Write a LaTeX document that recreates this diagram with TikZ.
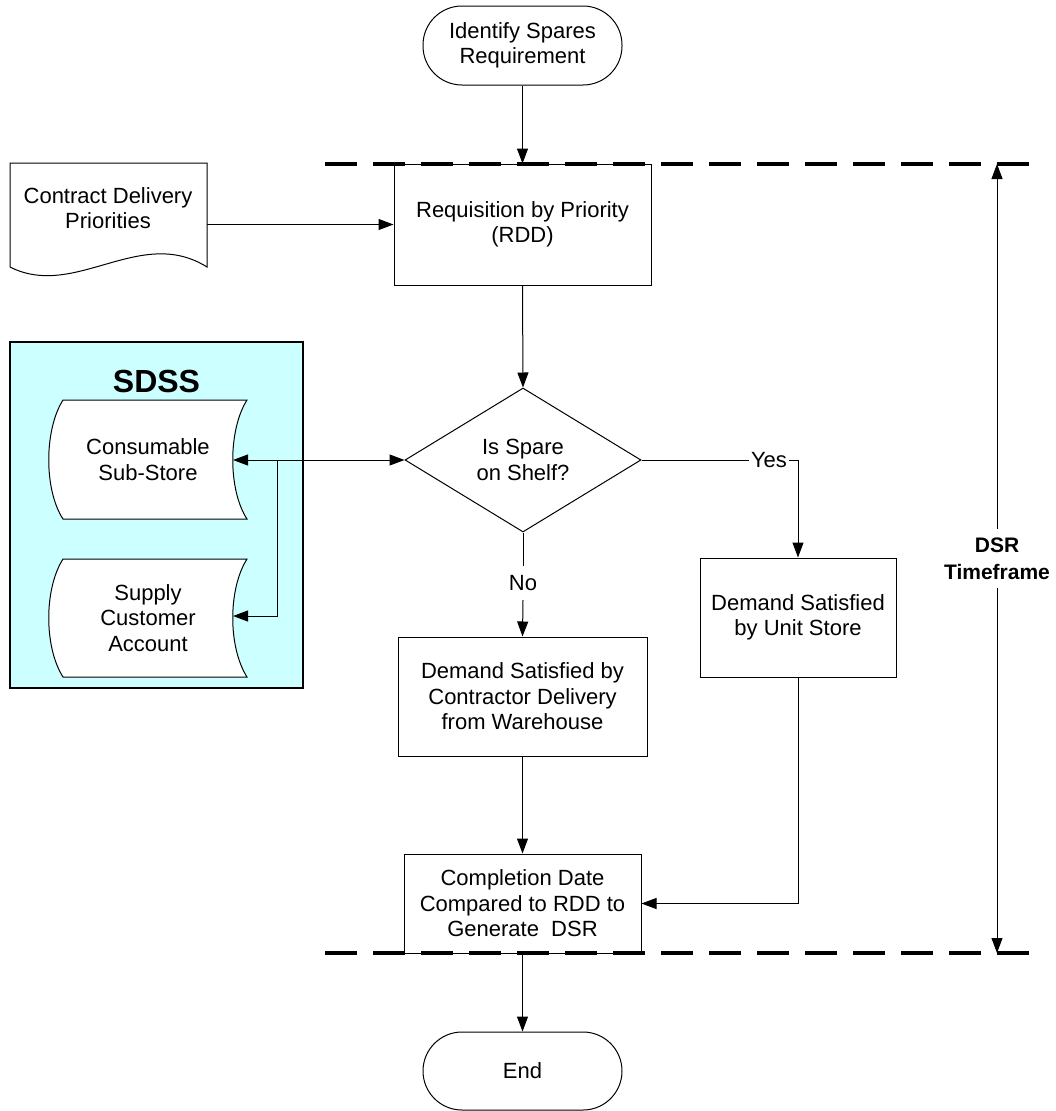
\documentclass[tikz,border=0pt]{standalone}
\usepackage{fontspec}
\setmainfont{Liberation Sans}
\usetikzlibrary{shapes.geometric,arrows.meta,calc}
\definecolor{sdssfill}{HTML}{CCFFFF}
\begin{document}
\begin{tikzpicture}[x=1pt,y=-1pt,
  every node/.style={font=\fontsize{22}{25.5}\selectfont, align=center},
  line/.style={draw=black, line width=1pt},
  arr/.style={line, -{Triangle[length=15pt,width=11pt]}},
  arrtwo/.style={line, {Triangle[length=15pt,width=11pt]}-{Triangle[length=15pt,width=11pt]}},
  procbox/.style={draw=black, line width=1pt, rectangle, fill=white, inner sep=0pt},
  term/.style={draw=black, line width=1pt, rectangle, rounded corners=39pt, fill=white, inner sep=0pt},
  dashline/.style={line width=3.5pt, dash pattern=on 32pt off 16pt, line cap=butt},
  lbl/.style={fill=white, inner sep=3pt},
  boldlbl/.style={font=\fontsize{21}{27}\selectfont\bfseries}
]
\useasboundingbox (0,0) rectangle (1055,1111);

% SDSS container
\node[draw=black, line width=1.5pt, fill=sdssfill, rectangle, minimum width=293pt, minimum height=346pt, inner sep=0pt] (sdssbox) at (156.5,515) {};
\node[font=\fontsize{32}{36}\selectfont\bfseries] (sdsslbl) at (156.5,381) {SDSS};

% Stored data shapes
\draw[line, fill=white] (63,400) -- (247,400) .. controls (228,430) and (228,490) .. (247,519) -- (63,519) .. controls (44,490) and (44,430) .. (63,400) -- cycle;
\node (cons) at (148,459.5) {Consumable\\Sub-Store};
\draw[line, fill=white] (63,559) -- (247,559) .. controls (228,589) and (228,647) .. (247,677) -- (63,677) .. controls (44,647) and (44,589) .. (63,559) -- cycle;
\node (supp) at (148,618) {Supply\\Customer\\Account};
\coordinate (consR) at (233,460);
\coordinate (suppR) at (233,616);
\coordinate (branch) at (277,460);

% Document shape
\draw[line, fill=white] (10,163) -- (207,163) -- (207,267) .. controls (140,225) and (75,300) .. (10,267) -- cycle;
\node (doc) at (108,208) {Contract Delivery\\Priorities};
\coordinate (docR) at (207,224.5);

% Dashed timeframe lines
\coordinate (dTl) at (325,164);
\coordinate (dTr) at (1032,164);
\coordinate (dBl) at (325,953);
\coordinate (dBr) at (1032,953);

% Main flow nodes
\node[term, minimum width=199pt, minimum height=79pt] (start) at (522.5,45.5) {Identify Spares\\Requirement};
\node[procbox, minimum width=257pt, minimum height=121pt] (req) at (522.5,224.5) {Requisition by Priority\\(RDD)};
\node[draw=black, line width=1pt, diamond, fill=white, minimum width=236pt, minimum height=144pt, inner sep=0pt] (dec) at (523,460) {Is Spare\\on Shelf?};
\node[procbox, minimum width=249pt, minimum height=119pt] (contr) at (522.5,696.5) {Demand Satisfied by\\Contractor Delivery\\from Warehouse};
\node[procbox, minimum width=196pt, minimum height=119pt] (unit) at (798,617.5) {Demand Satisfied\\by Unit Store};
\node[procbox, minimum width=237pt, minimum height=99pt] (comp) at (522.5,903.5) {Completion Date\\Compared to RDD to\\Generate\ \ DSR};
\node[term, minimum width=199pt, minimum height=78pt] (endn) at (522.5,1071) {End};

\node[inner sep=2pt] (yes) at (769,460) {Yes};
\node[inner sep=0pt, minimum height=34pt] (no) at (523,583) {No};

% DSR arrow
\coordinate (dsrT) at (997,164);
\coordinate (dsrB) at (997,953);
\node[boldlbl, inner sep=0pt, minimum height=59pt] (dsr) at (997,558.5) {DSR\\Timeframe};

% Connectors
\draw[arr] (start.south) -- (req.north);
\draw[arr] (docR) -- (req.west);
\draw[arr] (req.south) -- (dec.north);
\draw[arrtwo] (dec.west) -- (consR);
\draw[arr] (branch) |- (suppR);
\draw[line] (dec.east) -- (yes.west);
\draw[arr] (yes.east) -| (unit.north);
\draw[line] (dec.south) -- (no.north);
\draw[arr] (no.south) -- (contr.north);
\draw[arr] (contr.south) -- (comp.north);
\draw[arr] (unit.south) |- (comp.east);
\draw[arr] (comp.south) -- (endn.north);
\draw[arr] (dsr.north) -- (dsrT);
\draw[arr] (dsr.south) -- (dsrB);

\draw[dashline] (dTl) -- (dTr);
\draw[dashline] (dBl) -- (dBr);
\end{tikzpicture}
\end{document}
